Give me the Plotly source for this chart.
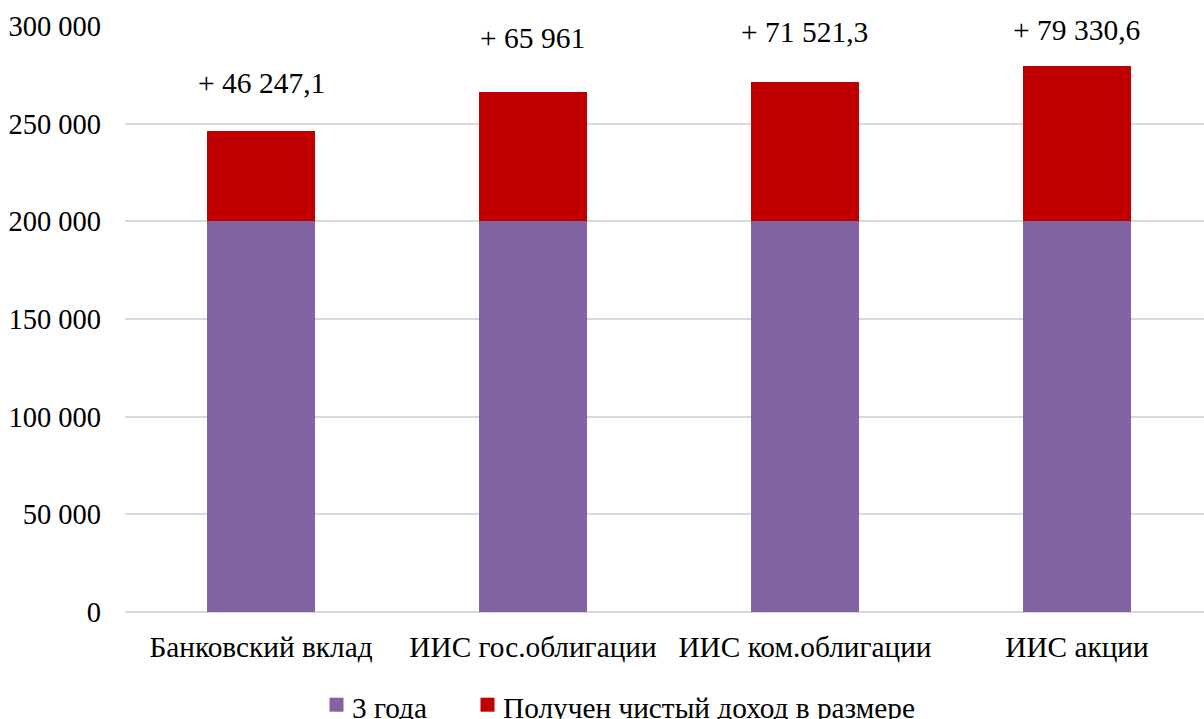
import plotly.graph_objects as go

# Investment options and amounts (rubles)
categories = ["Банковский вклад", "ИИС гос.облигации", "ИИС ком.облигации", "ИИС акции"]
principal = [200000, 200000, 200000, 200000]
net_income = [46247.1, 65961, 71521.3, 79330.6]
income_labels = ["+ 46 247,1", "+ 65 961", "+ 71 521,3", "+ 79 330,6"]
y_ticks = [0, 50000, 100000, 150000, 200000, 250000, 300000]

series_names = ["3 года", "Получен чистый доход в размере"]

FONT = "Liberation Serif"
PURPLE = "#8064A2"
RED = "#C00000"
GRID = "#D9D9D9"
colors = [PURPLE, RED]

# vertical offsets (px) of the income labels above each bar
label_shift = [48, 54, 50, 36]

fig = go.Figure()
fig.add_trace(go.Bar(x=categories, y=principal, name=series_names[0],
                     marker=dict(color=PURPLE, line=dict(width=0)), width=0.4))
fig.add_trace(go.Bar(x=categories, y=net_income, name=series_names[1],
                     marker=dict(color=RED, line=dict(width=0)), width=0.4))

for cat, base, inc, txt, dy in zip(categories, principal, net_income, income_labels, label_shift):
    fig.add_annotation(x=cat, y=base + inc, text=txt, showarrow=False,
                       yanchor="middle", yshift=dy,
                       font=dict(family=FONT, size=29.5))

# legend drawn below the plot: coloured square followed by series name
W, H = 1204, 719
ML, MR, MT, MB = 125, 0, 26, 107
pw, ph = W - ML - MR, H - MT - MB
legend_x = [329.5, 480.5]  # px of square left edges
sq_cy = 704.7              # px of square centre
text_cy = 708              # px of text centre
sq = 14
for name, col, lx in zip(series_names, colors, legend_x):
    fig.add_shape(type="rect", xref="paper", yref="paper",
                  x0=(lx - ML) / pw, x1=(lx + sq - ML) / pw,
                  y0=(H - MB - (sq_cy + sq / 2)) / ph, y1=(H - MB - (sq_cy - sq / 2)) / ph,
                  fillcolor=col, line=dict(width=0))
    fig.add_annotation(xref="paper", yref="paper", x=(lx + 20.5 - ML) / pw,
                       y=(H - MB - text_cy) / ph, xanchor="left", yanchor="middle",
                       text=name, showarrow=False,
                       font=dict(family=FONT, size=29.3))

fig.update_layout(
    template="none",
    barmode="stack",
    width=W, height=H,
    margin=dict(l=ML, r=MR, t=MT, b=MB),
    paper_bgcolor="white", plot_bgcolor="white",
    separators=", ",
    showlegend=False,
)
fig.update_xaxes(range=[-0.5, 3.467], showgrid=False, showline=False, ticks="",
                 tickfont=dict(family=FONT, size=29.3, color="black"), ticklabelstandoff=15)
fig.update_yaxes(range=[0, 300000], tickvals=y_ticks, tickformat=",.0f",
                 showgrid=True, gridcolor=GRID, gridwidth=1.5,
                 zeroline=True, zerolinecolor=GRID, zerolinewidth=1.5,
                 showline=False, ticks="", ticklabelstandoff=23,
                 tickfont=dict(family=FONT, size=28.5, color="black"))
fig.update_annotations(font_color="black")

fig.write_html("out.html")
